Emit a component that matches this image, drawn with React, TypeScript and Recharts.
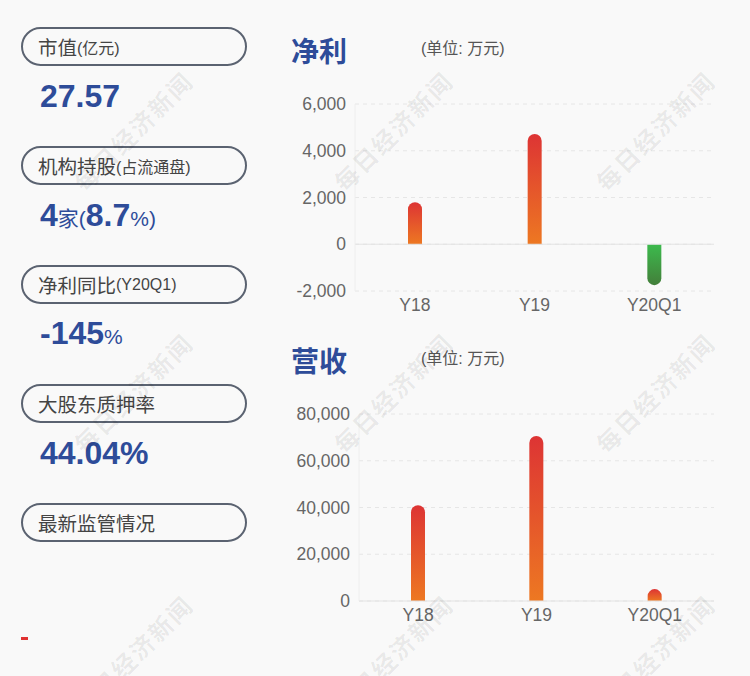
import React from "react";
import {
  BarChart,
  Bar,
  XAxis,
  YAxis,
  CartesianGrid,
  ReferenceLine,
} from "recharts";

const years = ["Y18", "Y19", "Y20Q1"];
const netProfit = [1800, 4720, -1750];
const revenue = [41000, 70600, 5100];
const profitTicks = [-2000, 0, 2000, 4000, 6000];
const revenueTicks = [0, 20000, 40000, 60000, 80000];

const profitData = years.map((y, i) => ({ year: y, value: netProfit[i] }));
const revenueData = years.map((y, i) => ({ year: y, value: revenue[i] }));

const BLUE = "#2e4c99";
const FONT = "'Liberation Sans', 'Noto Sans CJK SC', sans-serif";
const fmt = (v: number) => v.toLocaleString("en-US");

// bar with a rounded end on the value side
function RoundBar(props: any) {
  const { x, y, width, height, payload } = props;
  if (!height) return null;
  const neg = payload && payload.value < 0;
  const t = Math.min(y, y + height);
  const h = Math.abs(height);
  const b = t + h;
  const w = width;
  const r = Math.min(w / 2, h);
  const d = neg
    ? `M${x},${t} L${x + w},${t} L${x + w},${b - r} A${r},${r} 0 0 1 ${x + w - r},${b} L${x + r},${b} A${r},${r} 0 0 1 ${x},${b - r} Z`
    : `M${x},${b} L${x},${t + r} A${r},${r} 0 0 1 ${x + r},${t} L${x + w - r},${t} A${r},${r} 0 0 1 ${x + w},${t + r} L${x + w},${b} Z`;
  return <path d={d} fill={neg ? "url(#gradGreen)" : "url(#gradRed)"} />;
}

function Grads() {
  return (
    <defs>
      <linearGradient id="gradRed" x1="0" y1="0" x2="0" y2="1">
        <stop offset="0%" stopColor="#dd3434" />
        <stop offset="100%" stopColor="#ed7822" />
      </linearGradient>
      <linearGradient id="gradGreen" x1="0" y1="0" x2="0" y2="1">
        <stop offset="0%" stopColor="#3cba4d" />
        <stop offset="100%" stopColor="#437f3a" />
      </linearGradient>
    </defs>
  );
}

const tickStyle = { fontSize: 17.5, fill: "#666", fontFamily: FONT };

function Pill({ top, label, small }: { top: number; label: string; small?: string }) {
  return (
    <div
      style={{
        position: "absolute",
        left: 21,
        top,
        width: 226,
        height: 39,
        border: "2px solid #5b6371",
        borderRadius: 20,
        display: "flex",
        alignItems: "center",
        paddingLeft: 15,
        boxSizing: "border-box",
        color: "#444",
        fontSize: 19.5,
        fontFamily: FONT,
        whiteSpace: "nowrap",
      }}
    >
      {label}
      {small && <span style={{ fontSize: 16 }}>{small}</span>}
    </div>
  );
}

const bigStyle: React.CSSProperties = {
  position: "absolute",
  left: 40,
  color: BLUE,
  fontFamily: FONT,
  fontWeight: 700,
  fontSize: 32,
  lineHeight: "36px",
  whiteSpace: "nowrap",
};

function Watermark({ cx, cy }: { cx: number; cy: number }) {
  return (
    <div
      style={{
        position: "absolute",
        left: cx - 90,
        top: cy - 15,
        width: 180,
        height: 30,
        lineHeight: "30px",
        textAlign: "center",
        transform: "rotate(-45deg)",
        color: "rgba(0,0,0,0.07)",
        fontSize: 24,
        fontWeight: 700,
        fontFamily: "'Noto Sans CJK SC', sans-serif",
        letterSpacing: 2,
        pointerEvents: "none",
        whiteSpace: "nowrap",
      }}
    >
      每日经济新闻
    </div>
  );
}

function Title({ top, text }: { top: number; text: string }) {
  return (
    <>
      <div
        style={{
          position: "absolute",
          left: 291,
          top,
          fontSize: 28,
          fontWeight: 700,
          color: BLUE,
          fontFamily: "'Noto Sans CJK SC', sans-serif",
          lineHeight: "34px",
        }}
      >
        {text}
      </div>
      <div
        style={{
          position: "absolute",
          left: 421,
          top: top + 6,
          fontSize: 16,
          color: "#555",
          fontFamily: FONT,
          lineHeight: "20px",
        }}
      >
        (单位: 万元)
      </div>
    </>
  );
}

export default function App() {
  return (
    <div
      style={{
        position: "absolute",
        left: 0,
        top: 0,
        width: 750,
        height: 676,
        background: "#f9f9f9",
        overflow: "hidden",
      }}
    >
      <Pill top={27} label="市值" small="(亿元)" />
      <div style={{ ...bigStyle, top: 78 }}>27.57</div>
      <Pill top={146} label="机构持股" small="(占流通盘)" />
      <div style={{ ...bigStyle, top: 197 }}>
        4<span style={{ fontSize: 21, fontWeight: 400 }}>家(</span>8.7
        <span style={{ fontSize: 21, fontWeight: 400 }}>%)</span>
      </div>
      <Pill top={265} label="净利同比" small="(Y20Q1)" />
      <div style={{ ...bigStyle, top: 315 }}>
        -145<span style={{ fontSize: 21, fontWeight: 400 }}>%</span>
      </div>
      <Pill top={384} label="大股东质押率" />
      <div style={{ ...bigStyle, top: 435 }}>44.04%</div>
      <Pill top={503} label="最新监管情况" />
      <div
        style={{
          position: "absolute",
          left: 21,
          top: 637,
          width: 7,
          height: 3,
          background: "#e03131",
        }}
      />

      <Title top={33} text="净利" />
      <div style={{ position: "absolute", left: 280, top: 80 }}>
        <BarChart
          width={450}
          height={250}
          data={profitData}
          margin={{ top: 24, right: 16, left: 15, bottom: 9 }}
        >
          <Grads />
          <CartesianGrid vertical={false} stroke="#e6e6e6" strokeDasharray="4 4" />
          <XAxis
            dataKey="year"
            axisLine={false}
            tickLine={false}
            tick={tickStyle}
            height={30}
          />
          <YAxis
            domain={[-2000, 6000]}
            ticks={profitTicks}
            tickFormatter={fmt}
            tick={tickStyle}
            axisLine={{ stroke: "#eeeeee" }}
            tickLine={false}
            width={60}
            tickMargin={3}
          />
          <ReferenceLine y={0} stroke="#e3e3e3" />
          <Bar dataKey="value" barSize={14} shape={RoundBar} isAnimationActive={false} />
        </BarChart>
      </div>

      <Title top={343} text="营收" />
      <div style={{ position: "absolute", left: 280, top: 390 }}>
        <BarChart
          width={450}
          height={250}
          data={revenueData}
          margin={{ top: 24, right: 16, left: 15, bottom: 9 }}
        >
          <Grads />
          <CartesianGrid vertical={false} stroke="#e6e6e6" strokeDasharray="4 4" />
          <XAxis
            dataKey="year"
            axisLine={false}
            tickLine={false}
            tick={tickStyle}
            height={30}
          />
          <YAxis
            domain={[0, 80000]}
            ticks={revenueTicks}
            tickFormatter={fmt}
            tick={tickStyle}
            axisLine={{ stroke: "#eeeeee" }}
            tickLine={false}
            width={64}
            tickMargin={3}
          />
          <ReferenceLine y={0} stroke="#e3e3e3" />
          <Bar dataKey="value" barSize={14} shape={RoundBar} isAnimationActive={false} />
        </BarChart>
      </div>

      {[131, 393, 655].map((cy) =>
        [133, 393, 655].map((cx) => <Watermark key={`${cx}-${cy}`} cx={cx} cy={cy} />)
      )}
    </div>
  );
}
